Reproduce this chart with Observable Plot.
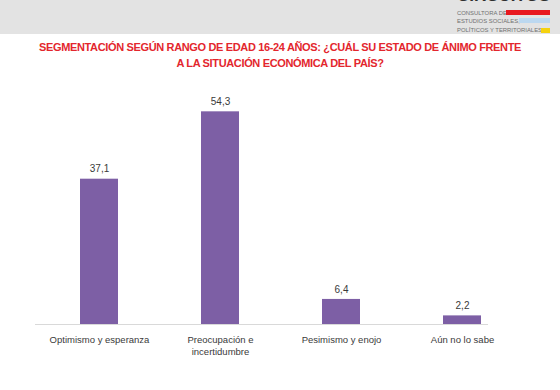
<!DOCTYPE html>
<html>
<head>
<meta charset="utf-8">
<script src="https://cdn.jsdelivr.net/npm/d3@7"></script>
<script src="https://cdn.jsdelivr.net/npm/@observablehq/plot@0.6"></script>
<style>
  html, body { margin: 0; padding: 0; background: #fff; }
  body { width: 560px; height: 390px; overflow: hidden; font-family: "Liberation Sans", Arial, sans-serif; }
  #header { position: relative; height: 34px; background: #e3e3e3; overflow: hidden; }
  #logo { position: absolute; left: 457px; top: 0; width: 93px; height: 34px; }
  #logo .brand { position: absolute; left: 0; top: -13px; font-size: 17px; font-weight: bold; color: #2e2e2e; line-height: 17px; white-space: nowrap; }
  #logo .row { position: absolute; left: 0; font-size: 5.9px; color: #707070; line-height: 8px; height: 8px; white-space: nowrap; }
  #logo .bar { position: absolute; right: 0; height: 5px; }
  #title { text-align: center; color: #e3262d; font-weight: bold; font-size: 11px; line-height: 16px; margin-top: 5px; letter-spacing: -0.35px; }
  #chart { margin-top: 4px; }
</style>
</head>
<body>
<div id="header">
  <div id="logo">
    <div class="brand">CIRCUITOS</div>
    <div class="row" style="top:8.5px">CONSULTORA DE</div>
    <div class="row" style="top:17px">ESTUDIOS SOCIALES,</div>
    <div class="row" style="top:26px">POLÍTICOS Y TERRITORIALES</div>
    <div class="bar" style="top:10px;width:44px;background:#e8191f"></div>
    <div class="bar" style="top:18px;width:31px;background:#bcd8f0"></div>
    <div class="bar" style="top:28px;width:9px;background:#f5d20f"></div>
  </div>
</div>
<div id="title">SEGMENTACIÓN SEGÚN RANGO DE EDAD 16-24 AÑOS: ¿CUÁL SU ESTADO DE ÁNIMO FRENTE<br>A LA SITUACIÓN ECONÓMICA DEL PAÍS?</div>
<div id="chart"></div>
<script>
const categories = ["Optimismo y esperanza", "Preocupación e incertidumbre", "Pesimismo y enojo", "Aún no lo sabe"];
const tickLabels = ["Optimismo y esperanza", "Preocupación e\nincertidumbre", "Pesimismo y enojo", "Aún no lo sabe"];
const values = [37.1, 54.3, 6.4, 2.2];

const data = categories.map((c, i) => ({category: c, value: values[i]}));
const fmt = v => v.toFixed(1).replace(".", ",");

const plot = Plot.plot({
  width: 560,
  height: 313,
  marginLeft: 37,
  marginRight: 37,
  marginTop: 14,
  marginBottom: 64,
  style: { fontFamily: "Liberation Sans, Arial, sans-serif", background: "transparent" },
  x: { domain: categories, paddingInner: 0.69, paddingOuter: 0.345, axis: null, label: null },
  y: { domain: [0, 60], axis: null },
  marks: [
    Plot.ruleY([0], { stroke: "#d9d9d9", strokeWidth: 1, insetLeft: -2, insetRight: 35 }),
    Plot.barY(data, { x: "category", y: "value", fill: "#7d5fa5" }),
    Plot.text(data, { x: "category", y: "value", text: d => fmt(d.value), dy: -10, fontSize: 10, fill: "#3a3a3a" }),
    Plot.axisX({ tickSize: 0, tickPadding: 9, fontSize: 9.5, lineHeight: 1.35, fill: "#3a3a3a", label: null, tickFormat: d => tickLabels[categories.indexOf(d)], textAnchor: "middle", lineAnchor: "top" })
  ]
});
document.getElementById("chart").appendChild(plot);
</script>
</body>
</html>
